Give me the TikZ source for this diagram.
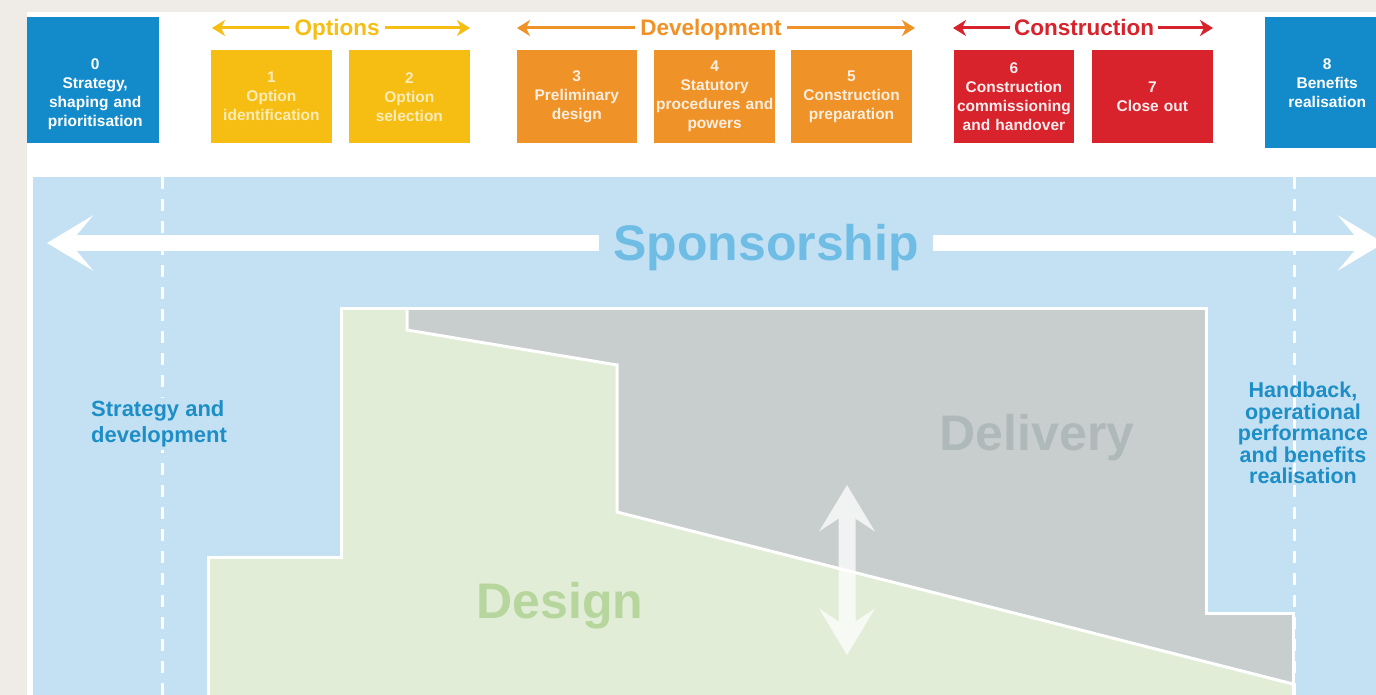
\documentclass[tikz,border=0pt]{standalone}
\usepackage{fontspec}
\setmainfont{Liberation Sans}
\usetikzlibrary{arrows.meta,positioning}
\definecolor{paper}{HTML}{EFEBE6}
\definecolor{stageblue}{HTML}{138BCB}
\definecolor{stageyel}{HTML}{F6BE12}
\definecolor{stageorg}{HTML}{EF9228}
\definecolor{stagered}{HTML}{D8232C}
\definecolor{sky}{HTML}{C4E1F3}
\definecolor{skytext}{HTML}{6FBDE5}
\definecolor{deepblue}{HTML}{1D8EC6}
\definecolor{designfill}{HTML}{E1EDD6}
\definecolor{designtext}{HTML}{B6D69E}
\definecolor{deliveryfill}{HTML}{C8CECE}
\definecolor{deliverytext}{HTML}{B0B9B9}

\begin{document}
\begin{tikzpicture}[x=1pt,y=-1pt,
stage/.style={inner xsep=1pt,inner ysep=0pt,text width=118.5pt,minimum height=93pt,align=center,anchor=north west,font=\fontsize{15.5}{19}\selectfont\bfseries},
phase/.style={font=\fontsize{22.5}{24}\selectfont\bfseries,text height=16pt,text depth=0pt,inner xsep=5pt,inner ysep=0pt},
tarr/.style={line width=3pt,-{Stealth[length=13pt,width=16pt,inset=4pt]}},
bigarr/.style={draw=white,line width=16pt,-{Stealth[length=46pt,width=55pt,inset=23pt]}},
zone/.style={font=\fontsize{22}{26}\selectfont\bfseries,text=deepblue},
big/.style={font=\fontsize{50}{54}\selectfont\bfseries,text height=36pt,text depth=0pt,inner xsep=14pt,inner ysep=0pt},
rim/.style={draw=white,line width=3pt,line join=miter},
divider/.style={draw=white,line width=3pt,dash pattern=on 12pt off 10pt}]
\clip (0,0) rectangle (1376,695);
\fill[paper] (0,0) rectangle (1376,695);
\fill[white] (27,12) rectangle (1376,695);
\fill[sky] (33,177) rectangle (1376,695);

\node[stage,fill=stageblue,text width=130pt,minimum height=126pt] (s0) at (27,17) {};
\node[stage,anchor=center,minimum height=0pt,text=white] (s0lbl) at ([xshift=2pt,yshift=-14pt]s0.center) {0\\Strategy,\\shaping and\\prioritisation};
\node[stage,fill=stageyel,text=white!70!stageyel] (s1) at (211,50) {1\\Option\\identification};
\node[stage,fill=stageyel,text=white!70!stageyel,right=17pt of s1] (s2) {2\\Option\\selection};
\node[stage,fill=stageorg,text=white!85!stageorg,right=46.5pt of s2] (s3) {3\\Preliminary\\design};
\node[stage,fill=stageorg,text=white!85!stageorg,right=17pt of s3] (s4) {4\\Statutory\\procedures and\\powers};
\node[stage,fill=stageorg,text=white!85!stageorg,right=16pt of s4] (s5) {5\\Construction\\preparation};
\node[stage,fill=stagered,text=white!92!stagered,right=41.5pt of s5] (s6) {6\\Construction\\commissioning\\and handover};
\node[stage,fill=stagered,text=white!92!stagered,right=17.5pt of s6] (s7) {7\\Close out};
\node[stage,fill=stageblue,text=white,text width=122pt,minimum height=131pt] (s8) at (1265,17) {8\\Benefits\\realisation};

\node[phase,text=stageyel] (opt) at (337,28) {Options};
\node[phase,text=stageorg] (dev) at (711,28) {Development};
\node[phase,text=stagered,inner xsep=4pt] (con) at (1084,28) {Construction};
\coordinate (optl) at (212,28); \coordinate (optr) at (470,28);
\coordinate (devl) at (517,28); \coordinate (devr) at (915,28);
\coordinate (conl) at (953,28); \coordinate (conr) at (1213,28);
\draw[tarr,stageyel] (opt.west)--(optl); \draw[tarr,stageyel] (opt.east)--(optr);
\draw[tarr,stageorg] (dev.west)--(devl); \draw[tarr,stageorg] (dev.east)--(devr);
\draw[tarr,stagered] (con.west)--(conl); \draw[tarr,stagered] (con.east)--(conr);

\coordinate (dl) at (162,177); \coordinate (dlb) at (162,695);
\coordinate (dr) at (1294,177); \coordinate (drb) at (1294,695);
\draw[divider] (dl)--(dlb); \draw[divider] (dr)--(drb);

\node[big,text=skytext] (spon) at (766,243) {Sponsorship};
\coordinate (sponl) at (47,243); \coordinate (sponr) at (1384,243);
\draw[bigarr] (spon.west)--(sponl); \draw[bigarr] (spon.east)--(sponr);

\fill[designfill] (341,308)--(1206,308)--(1206,613)--(1293,613)--(1293,700)--(208,700)--(208,557)--(341,557)--cycle;
\fill[deliveryfill] (407,308)--(1206,308)--(1206,613)--(1293,613)--(1293,684)--(617,512)--(617,365)--(407,330)--cycle;
\draw[rim] (341,308)--(1206,308)--(1206,613)--(1293,613)--(1293,700)--(208,700)--(208,557)--(341,557)--cycle;
\draw[rim] (407,308)--(407,330)--(617,365)--(617,512)--(1293,684);

\node[zone,align=left,fill=sky,inner sep=3pt,anchor=west] (strat) at (88,424) {Strategy and\\development};
\node[zone,align=center,font=\fontsize{21.5}{21.5}\selectfont\bfseries] (hand) at (1303,433) {Handback,\\operational\\performance\\and benefits\\realisation};
\node[big,text=deliverytext] (deliv) at (1037,432) {Delivery};
\node[big,text=designtext] (design) at (560,600) {Design};

\coordinate (vtop) at (847,485); \coordinate (vbot) at (847,655);
\begin{scope}[transparency group,opacity=.75]
\draw[bigarr,line width=17pt,{Stealth[length=46pt,width=55pt,inset=18pt]}-{Stealth[length=46pt,width=55pt,inset=18pt]}] (vbot)--(vtop);
\end{scope}
\end{tikzpicture}
\end{document}
